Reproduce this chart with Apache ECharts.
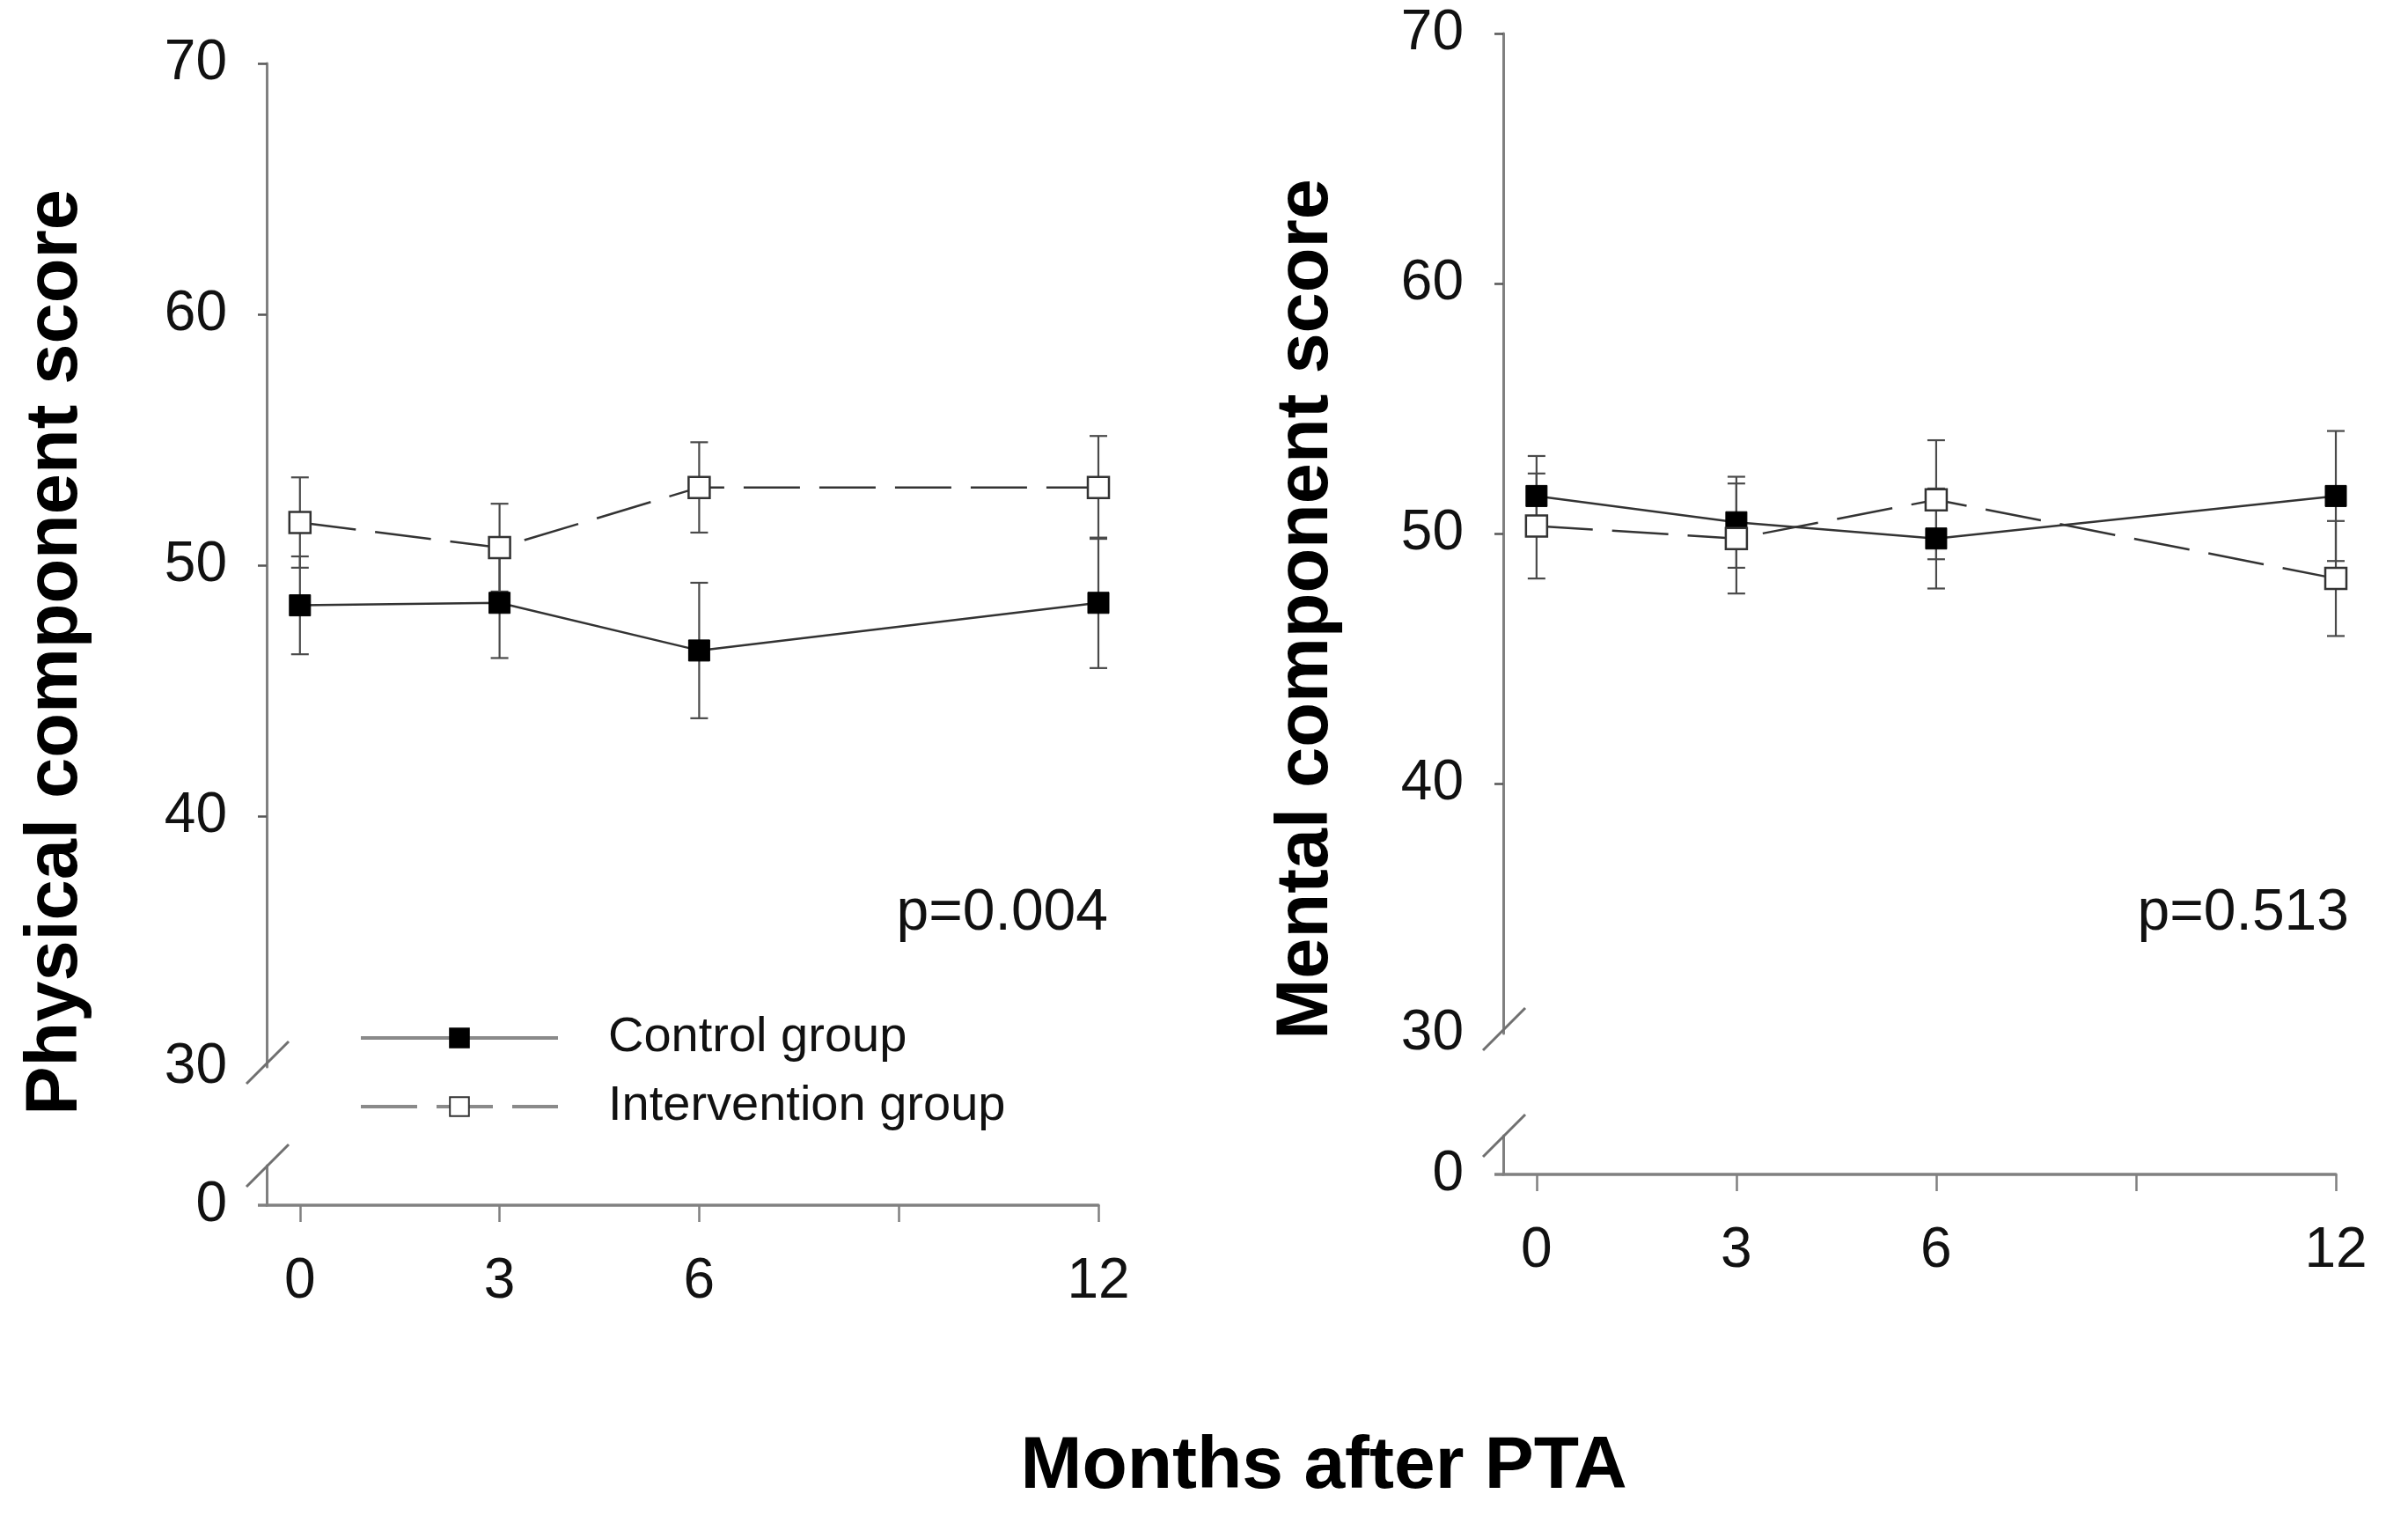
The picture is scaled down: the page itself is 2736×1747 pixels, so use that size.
<!DOCTYPE html>
<html>
<head>
<meta charset="utf-8">
<script src="https://cdn.jsdelivr.net/npm/echarts@6.0.0/dist/echarts.min.js"></script>
<style>
  html, body { margin: 0; padding: 0; background: #fff; }
  #chart { width: 2736px; height: 1747px; }
</style>
</head>
<body>
<div id="chart"></div>
<script>
// ---------------- data ----------------
const months = [0, 3, 6, 12];
const xTickValues = [0, 3, 6, 9, 12];
const xLabelValues = [0, 3, 6, 12];
const yTickLabels = [30, 40, 50, 60, 70];

const ctrlPhys = [48.4, 48.5, 46.6, 48.5];
const ctrlPhysErr = [1.95, 2.2, 2.7, 2.6];
const intPhys = [51.7, 50.7, 53.1, 53.1];
const intPhysErr = [1.8, 1.75, 1.8, 2.05];

const ctrlMent = [51.5, 50.45, 49.8, 51.5];
const ctrlMentErr = [1.6, 1.82, 2.0, 2.6];
const intMent = [50.3, 49.8, 51.35, 48.2];
const intMentErr = [2.1, 2.2, 2.38, 2.3];

const pValues = ['p=0.004', 'p=0.513'];
const yTitles = ['Physical component score', 'Mental component score'];
const xTitle = 'Months after PTA';
const seriesNames = ['Control group', 'Intervention group'];

// ---------------- layout ----------------
const FONT = '"Liberation Sans", Arial, Helvetica, sans-serif';
const AX = '#808080';
const panels = [
  { left: 303, right: 1248, top: 72, brk: 1212, lowTop: 1324, bottom: 1369,
    titleX: 64, titleY: 741, pX: 1259, pY: 1038 },
  { left: 1708, right: 2654, top: 38, brk: 1174, lowTop: 1290, bottom: 1334,
    titleX: 1485, titleY: 692, pX: 2669, pY: 1038 }
];

const grids = [], xAxes = [], yAxes = [], series = [], graphics = [];

function pairs(xs, ys) { return xs.map((x, i) => [x, ys[i]]); }
function errData(xs, ys, es) { return xs.map((x, i) => [x, ys[i] - es[i], ys[i] + es[i]]); }

function errRender(params, api) {
  const x = api.value(0), lo = api.value(1), hi = api.value(2);
  const pLo = api.coord([x, lo]);
  const pHi = api.coord([x, hi]);
  const w = 10;
  const style = { stroke: '#4a4a4a', lineWidth: 2.2, fill: null };
  return {
    type: 'group',
    children: [
      { type: 'line', shape: { x1: pLo[0], y1: pLo[1], x2: pHi[0], y2: pHi[1] }, style: style },
      { type: 'line', shape: { x1: pLo[0] - w, y1: pLo[1], x2: pLo[0] + w, y2: pLo[1] }, style: style },
      { type: 'line', shape: { x1: pHi[0] - w, y1: pHi[1], x2: pHi[0] + w, y2: pHi[1] }, style: style }
    ]
  };
}

const panelData = [
  { c: ctrlPhys, ce: ctrlPhysErr, n: intPhys, ne: intPhysErr },
  { c: ctrlMent, ce: ctrlMentErr, n: intMent, ne: intMentErr }
];

panels.forEach((p, k) => {
  const gUp = grids.length;
  grids.push({ left: p.left, top: p.top, width: p.right - p.left, height: p.brk - p.top, containLabel: false });
  grids.push({ left: p.left, top: p.lowTop, width: p.right - p.left, height: p.bottom - p.lowTop, containLabel: false });

  // upper x axis (hidden)
  xAxes.push({ type: 'value', gridIndex: gUp, min: -0.5, max: 12, show: false });
  // lower x axis (visible)
  xAxes.push({
    type: 'value', gridIndex: gUp + 1, min: -0.5, max: 12, position: 'bottom',
    axisLine: { show: true, onZero: false, lineStyle: { color: AX, width: 3.5 } },
    axisTick: { show: true, customValues: xTickValues, length: 19, lineStyle: { color: AX, width: 2.5 } },
    axisLabel: { show: true, customValues: xLabelValues, fontSize: 64, fontFamily: FONT, color: '#111', margin: 55 },
    splitLine: { show: false }
  });
  // upper y axis
  yAxes.push({
    type: 'value', gridIndex: gUp, min: 30, max: 70, interval: 10, position: 'left',
    axisLine: { show: true, onZero: false, lineStyle: { color: AX, width: 3 } },
    axisTick: { show: true, customValues: yTickLabels.filter(v => v > 30), length: 10, lineStyle: { color: '#555', width: 2.5 } },
    axisLabel: { show: true, customValues: yTickLabels, fontSize: 64, fontFamily: FONT, color: '#111', margin: 45 },
    splitLine: { show: false }
  });
  // lower y axis (0 segment)
  yAxes.push({
    type: 'value', gridIndex: gUp + 1, min: 0, max: 1, position: 'left',
    axisLine: { show: true, onZero: false, lineStyle: { color: AX, width: 3 } },
    axisTick: { show: true, customValues: [0], length: 10, lineStyle: { color: AX, width: 3.5 } },
    axisLabel: { show: true, customValues: [0], fontSize: 64, fontFamily: FONT, color: '#111', margin: 45 },
    splitLine: { show: false }
  });

  const d = panelData[k];
  series.push({
    type: 'custom', name: 'errC' + k, xAxisIndex: gUp, yAxisIndex: gUp,
    data: errData(months, d.c, d.ce), renderItem: errRender, z: 2, silent: true
  });
  series.push({
    type: 'custom', name: 'errI' + k, xAxisIndex: gUp, yAxisIndex: gUp,
    data: errData(months, d.n, d.ne), renderItem: errRender, z: 2, silent: true
  });
  series.push({
    type: 'line', name: seriesNames[0], xAxisIndex: gUp, yAxisIndex: gUp,
    data: pairs(months, d.c), symbol: 'rect', symbolSize: 24,
    lineStyle: { color: '#333', width: 2.5, type: 'solid' },
    itemStyle: { color: '#000', borderColor: '#000', borderWidth: 1 },
    z: 4
  });
  series.push({
    type: 'line', name: seriesNames[1], xAxisIndex: gUp, yAxisIndex: gUp,
    data: pairs(months, d.n), symbol: 'rect', symbolSize: 24,
    lineStyle: { color: '#333', width: 2.5, type: [64, 22] },
    itemStyle: { color: '#fff', borderColor: '#333', borderWidth: 2.5 },
    z: 5
  });

  // axis break slashes
  [[p.left + 1, p.brk - 5], [p.left + 1, p.lowTop]].forEach(c => {
    graphics.push({
      type: 'line', silent: true, z: 10,
      shape: { x1: c[0] - 24, y1: c[1] + 24, x2: c[0] + 24, y2: c[1] - 24 },
      style: { stroke: '#707070', lineWidth: 3 }
    });
  });

  // y title
  graphics.push({
    type: 'text', x: p.titleX, y: p.titleY, rotation: Math.PI / 2, z: 10,
    style: { text: yTitles[k], font: 'bold 83px ' + FONT, fill: '#000',
      align: 'center', verticalAlign: 'middle', textAlign: 'center', textVerticalAlign: 'middle' }
  });
  // p value
  graphics.push({
    type: 'text', x: p.pX, y: p.pY, z: 10,
    style: { text: pValues[k], font: '66px ' + FONT, fill: '#111',
      align: 'right', verticalAlign: 'middle', textAlign: 'right', textVerticalAlign: 'middle' }
  });
});

graphics.push({
  type: 'text', x: 1504, y: 1667, z: 10,
  style: { text: xTitle, font: 'bold 84px ' + FONT, fill: '#000',
    align: 'center', verticalAlign: 'middle', textAlign: 'center', textVerticalAlign: 'middle' }
});

const chart = echarts.init(document.getElementById('chart'), null, { renderer: 'canvas' });
chart.setOption({
  animation: false,
  backgroundColor: '#fff',
  grid: grids,
  xAxis: xAxes,
  yAxis: yAxes,
  series: series,
  legend: {
    data: seriesNames,
    orient: 'vertical',
    left: 408, top: 1149, padding: 0,
    itemWidth: 224, itemHeight: 27, itemGap: 18,
    lineStyle: { color: '#8a8a8a', width: 4 },
    textStyle: { fontSize: 56, fontFamily: FONT, color: '#111', lineHeight: 60, padding: [0, 0, 0, 52] },
    selectedMode: false
  },
  graphic: graphics
});
</script>
</body>
</html>
